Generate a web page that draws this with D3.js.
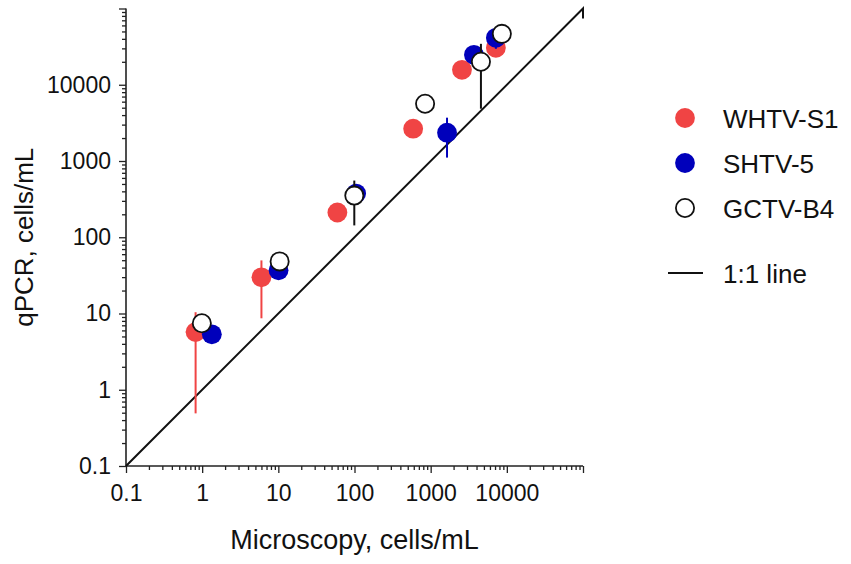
<!DOCTYPE html>
<html>
<head>
<meta charset="utf-8">
<script src="https://cdn.jsdelivr.net/npm/d3@7"></script>
<style>
  html, body { margin: 0; padding: 0; background: #fff; }
  svg { display: block; }
  text { font-family: "Liberation Sans", Arial, sans-serif; fill: #111; }
</style>
</head>
<body>
<svg id="chart" width="851" height="564"></svg>
<script>
// ---------- data ----------
const seriesNames = ["WHTV-S1", "SHTV-5", "GCTV-B4"];
const tickValues = [0.1, 1, 10, 100, 1000, 10000];
const tickLabels = ["0.1", "1", "10", "100", "1000", "10000"];
const axisDomain = [0.1, 100000];

// WHTV-S1
const whtvX   = [0.82, 6.0, 59.6, 589, 2577, 7180];
const whtvY   = [5.7, 29.8, 211, 2655, 15700, 30500];
const whtvYLo = [0.49, 8.65, null, null, null, null];
const whtvYHi = [10.4, 49.7, null, null, null, null];
const whtvXLo = [0.61, null, null, null, null, null];
const whtvXHi = [null, null, null, null, null, null];

// SHTV-5
const shtvX   = [1.34, 10.07, 105, 1640, 3700, 7180];
const shtvY   = [5.34, 36.8, 374, 2355, 24700, 41200];
const shtvYLo = [null, null, null, 1108, null, 29600];
const shtvYHi = [null, null, null, 3700, null, 52800];

// GCTV-B4
const gctvX   = [0.99, 10.4, 99.4, 845, 4570, 8600];
const gctvY   = [7.44, 48.2, 352, 5640, 20000, 46500];
const gctvYLo = [null, null, 143, null, 4850, null];
const gctvYHi = [null, null, 554, null, 34400, null];

// 1:1 reference line (with small end stroke as in the original)
const oneToOneX = [0.1, 100000, 100000];
const oneToOneY = [0.1, 100000, 74000];

(function () {
const svg = d3.select("#chart");
const L = 126, Rt = 583, T = 8.5, B = 466;
const x = d3.scaleLog().domain(axisDomain).range([L, Rt]);
const y = d3.scaleLog().domain(axisDomain).range([B, T]);

const colors = { "WHTV-S1": "#f04444", "SHTV-5": "#0000bb", "GCTV-B4": "#ffffff" };
const errColors = { "WHTV-S1": "#f04444", "SHTV-5": "#0000bb", "GCTV-B4": "#111111" };
const R = 9.9;

const minors = [];
for (let e = -1; e < 5; e++) for (let k = 2; k <= 9; k++) minors.push(k * Math.pow(10, e));
const majorsAll = tickValues.concat([100000]);

function labelFor(v) {
  const i = tickValues.indexOf(v);
  return i >= 0 ? tickLabels[i] : "";
}

const gx = svg.append("g").attr("transform", `translate(0,${B})`);
gx.call(d3.axisBottom(x).tickValues(minors).tickSize(4).tickFormat(""));
const gx2 = svg.append("g").attr("transform", `translate(0,${B})`);
gx2.call(d3.axisBottom(x).tickValues(majorsAll).tickSize(7).tickPadding(12).tickFormat(labelFor));

const gy = svg.append("g").attr("transform", `translate(${L},0)`);
gy.call(d3.axisLeft(y).tickValues(minors).tickSize(4).tickFormat(""));
const gy2 = svg.append("g").attr("transform", `translate(${L},0)`);
gy2.call(d3.axisLeft(y).tickValues(majorsAll).tickSize(7).tickPadding(8).tickFormat(labelFor));

svg.selectAll(".domain").attr("stroke", "#222").attr("stroke-width", 1.6);
svg.selectAll(".tick line").attr("stroke", "#222").attr("stroke-width", 1.3);
svg.selectAll(".tick text").style("font-size", "23px").attr("fill", "#111")
   .style("font-family", "'Liberation Sans', Arial, sans-serif");
gx.select(".domain").remove(); gy.select(".domain").remove();
gx2.select(".domain").attr("d", `M${L},0H${Rt}`);
gy2.select(".domain").attr("d", `M0,${B}V${T}`);

// 1:1 line
const lineGen = d3.line().x(d => x(d[0])).y(d => y(d[1]));
svg.append("path")
  .datum(oneToOneX.map((v, i) => [v, oneToOneY[i]]))
  .attr("d", lineGen)
  .attr("fill", "none").attr("stroke", "#111").attr("stroke-width", 2);

const series = [
  { name: seriesNames[0], xs: whtvX, ys: whtvY, lo: whtvYLo, hi: whtvYHi, xlo: whtvXLo, xhi: whtvXHi },
  { name: seriesNames[1], xs: shtvX, ys: shtvY, lo: shtvYLo, hi: shtvYHi },
  { name: seriesNames[2], xs: gctvX, ys: gctvY, lo: gctvYLo, hi: gctvYHi }
];

series.forEach(s => {
  const g = svg.append("g");
  const pts = s.xs.map((xv, i) => ({
    x: xv, y: s.ys[i], lo: s.lo[i], hi: s.hi[i],
    xlo: s.xlo ? s.xlo[i] : null, xhi: s.xhi ? s.xhi[i] : null
  }));
  g.selectAll("line.ey").data(pts.filter(p => p.lo != null)).enter().append("line")
    .attr("x1", p => x(p.x)).attr("x2", p => x(p.x))
    .attr("y1", p => y(p.lo)).attr("y2", p => y(p.hi))
    .attr("stroke", errColors[s.name]).attr("stroke-width", 2);
  g.selectAll("line.ex").data(pts.filter(p => p.xlo != null)).enter().append("line")
    .attr("y1", p => y(p.y)).attr("y2", p => y(p.y))
    .attr("x1", p => x(p.xlo)).attr("x2", p => x(p.xhi != null ? p.xhi : p.x))
    .attr("stroke", errColors[s.name]).attr("stroke-width", 2);
  g.selectAll("circle").data(pts).enter().append("circle")
    .attr("cx", p => x(p.x)).attr("cy", p => y(p.y))
    .attr("r", s.name === "GCTV-B4" ? R - 0.8 : R)
    .attr("fill", colors[s.name])
    .attr("stroke", s.name === "GCTV-B4" ? "#111" : "none")
    .attr("stroke-width", 1.8);
});

svg.append("text")
  .attr("x", (L + Rt) / 2).attr("y", 549)
  .attr("text-anchor", "middle").style("font-size", "27px")
  .text("Microscopy, cells/mL");
svg.append("text")
  .attr("transform", `translate(33,${(T + B) / 2}) rotate(-90)`)
  .attr("text-anchor", "middle").style("font-size", "26px")
  .text("qPCR, cells/mL");

const legY = [118, 163, 208];
seriesNames.forEach((n, i) => {
  svg.append("circle").attr("cx", 685).attr("cy", legY[i])
    .attr("r", n === "GCTV-B4" ? R - 0.8 : R)
    .attr("fill", colors[n])
    .attr("stroke", n === "GCTV-B4" ? "#111" : "none").attr("stroke-width", 1.8);
  svg.append("text").attr("x", 723).attr("y", legY[i] + 9.5)
    .style("font-size", "26px").text(n);
});
svg.append("line").attr("x1", 668).attr("x2", 703).attr("y1", 273).attr("y2", 273)
  .attr("stroke", "#111").attr("stroke-width", 2);
svg.append("text").attr("x", 723).attr("y", 282.5).style("font-size", "26px").text("1:1 line");
})();
</script>
</body>
</html>
